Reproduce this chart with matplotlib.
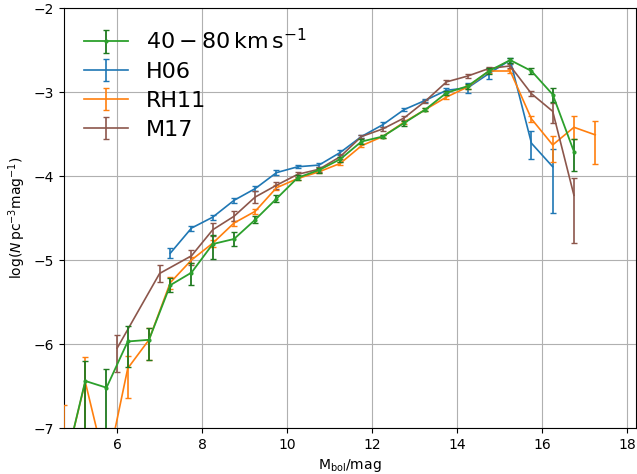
import numpy as np
import matplotlib.pyplot as plt

# 40-80 km/s sample
x_g = [4.75, 5.25, 5.75, 6.25, 6.75, 7.25, 7.75, 8.25, 8.75, 9.25, 9.75, 10.25,
       10.75, 11.25, 11.75, 12.25, 12.75, 13.25, 13.75, 14.25, 14.75, 15.25,
       15.75, 16.25, 16.75]
y_g = [-7.5, -6.44, -6.52, -5.97, -5.95, -5.30, -5.15, -4.81, -4.75, -4.52,
       -4.27, -4.02, -3.93, -3.80, -3.59, -3.53, -3.37, -3.21, -3.01, -2.93,
       -2.75, -2.62, -2.75, -3.03, -3.71]
lo_g = [0.3, 0.7, 0.7, 0.30, 0.24, 0.08, 0.15, 0.18, 0.08, 0.04, 0.04, 0.03,
        0.03, 0.03, 0.03, 0.02, 0.03, 0.02, 0.02, 0.03, 0.03, 0.03, 0.03, 0.09, 0.23]
hi_g = [0.3, 0.24, 0.22, 0.18, 0.14, 0.08, 0.12, 0.11, 0.08, 0.04, 0.04, 0.03,
        0.03, 0.03, 0.03, 0.02, 0.03, 0.02, 0.02, 0.03, 0.03, 0.03, 0.03, 0.08, 0.15]

# H06
x_b = [7.25, 7.75, 8.25, 8.75, 9.25, 9.75, 10.25, 10.75, 11.25, 11.75, 12.25,
       12.75, 13.25, 13.75, 14.25, 14.75, 15.25, 15.75, 16.25]
y_b = [-4.92, -4.62, -4.49, -4.29, -4.15, -3.96, -3.89, -3.87, -3.72, -3.53,
       -3.39, -3.21, -3.10, -2.98, -2.95, -2.78, -2.62, -3.61, -3.89]
lo_b = [0.06, 0.03, 0.03, 0.03, 0.03, 0.03, 0.02, 0.02, 0.03, 0.02, 0.03, 0.02,
        0.02, 0.03, 0.06, 0.07, 0.03, 0.19, 0.55]
hi_b = [0.06, 0.03, 0.03, 0.03, 0.03, 0.03, 0.02, 0.02, 0.03, 0.02, 0.03, 0.02,
        0.02, 0.03, 0.06, 0.07, 0.03, 0.14, 0.21]

# RH11
x_o = [4.75, 5.25, 5.75, 6.25, 6.75, 7.25, 7.75, 8.25, 8.75, 9.25, 9.75, 10.25,
       10.75, 11.25, 11.75, 12.25, 12.75, 13.25, 13.75, 14.25, 14.75, 15.25,
       15.75, 16.25, 16.75, 17.25]
y_o = [-7.5, -6.45, -7.5, -6.29, -5.95, -5.27, -5.00, -4.80, -4.56, -4.42,
       -4.14, -4.03, -3.95, -3.85, -3.64, -3.53, -3.36, -3.21, -3.06, -2.94,
       -2.75, -2.75, -3.32, -3.63, -3.42, -3.51]
lo_o = [0.5, 0.8, 0.3, 0.35, 0.24, 0.07, 0.04, 0.04, 0.03, 0.03, 0.03, 0.02,
        0.02, 0.02, 0.02, 0.02, 0.02, 0.02, 0.02, 0.02, 0.02, 0.02, 0.04, 0.20,
        0.14, 0.35]
hi_o = [0.77, 0.30, 0.3, 0.15, 0.14, 0.07, 0.04, 0.04, 0.03, 0.03, 0.03, 0.02,
        0.02, 0.02, 0.02, 0.02, 0.02, 0.02, 0.02, 0.02, 0.02, 0.02, 0.04, 0.11,
        0.13, 0.17]

# M17
x_m = [6.0, 7.0, 7.75, 8.25, 8.75, 9.25, 9.75, 10.25, 10.75, 11.25, 11.75,
       12.25, 12.75, 13.25, 13.75, 14.25, 14.75, 15.25, 15.75, 16.25, 16.75]
y_m = [-6.05, -5.16, -4.95, -4.64, -4.48, -4.25, -4.11, -3.98, -3.92, -3.77,
       -3.53, -3.44, -3.31, -3.11, -2.88, -2.81, -2.72, -2.69, -3.02, -3.23, -4.23]
lo_m = [0.28, 0.10, 0.11, 0.08, 0.06, 0.07, 0.04, 0.03, 0.03, 0.03, 0.02, 0.02,
        0.02, 0.02, 0.02, 0.02, 0.02, 0.02, 0.03, 0.14, 0.57]
hi_m = [0.16, 0.10, 0.07, 0.08, 0.06, 0.07, 0.04, 0.03, 0.03, 0.03, 0.02, 0.02,
        0.02, 0.02, 0.02, 0.02, 0.02, 0.02, 0.03, 0.10, 0.21]

fig = plt.figure(figsize=(6.37, 4.74), dpi=100)
ax = fig.add_axes([64/637, 46/474, 572/637, 420/474])

ax.errorbar(x_g, y_g, yerr=[lo_g, hi_g], color='tab:green', ecolor='#1f7a1f',
            marker='.', ms=4, capsize=2.5, lw=1.3, zorder=5,
            label=r'$40-80\,\mathrm{km\,s^{-1}}$')
ax.errorbar(x_b, y_b, yerr=[lo_b, hi_b], color='tab:blue', capsize=2.5,
            lw=1.2, zorder=3, label='H06')
ax.errorbar(x_o, y_o, yerr=[lo_o, hi_o], color='tab:orange', capsize=2.5,
            lw=1.2, zorder=3, label='RH11')
ax.errorbar(x_m, y_m, yerr=[lo_m, hi_m], color='tab:brown', capsize=2.5,
            lw=1.2, zorder=3, label='M17')

ax.set_xlim(4.75, 18.21)
ax.set_ylim(-7, -2)
ax.set_xticks([6, 8, 10, 12, 14, 16, 18])
ax.set_yticks([-7, -6, -5, -4, -3, -2])
ax.grid(True)
ax.set_xlabel(r'$\mathrm{M_{bol}}$/mag')
ax.set_ylabel(r'log($N\,\mathrm{pc^{-3}mag^{-1}}$)')
ax.legend(loc='upper left', frameon=False, fontsize=16, labelspacing=0.4)

fig.savefig('out.png', dpi=100)
